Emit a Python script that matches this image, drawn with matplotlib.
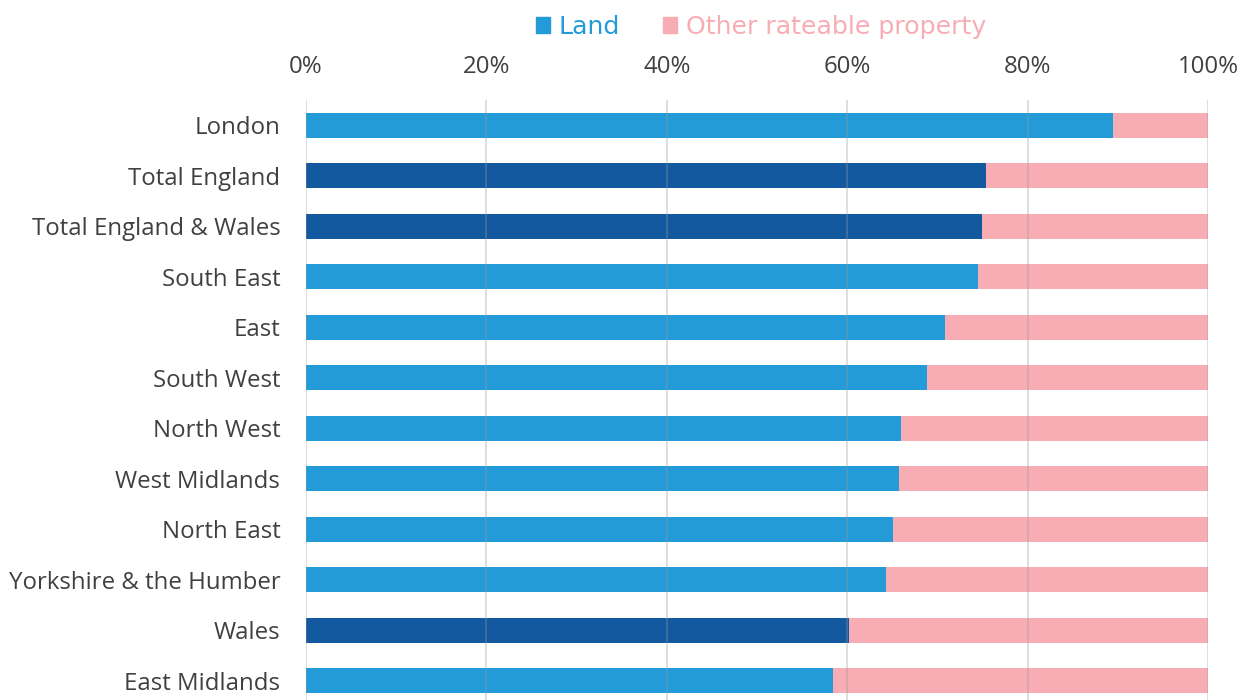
import matplotlib
matplotlib.use("Agg")
import matplotlib.pyplot as plt
from matplotlib.patches import Patch

regions = ["London", "Total England", "Total England & Wales", "South East", "East",
           "South West", "North West", "West Midlands", "North East",
           "Yorkshire & the Humber", "Wales", "East Midlands"]
land = [89.5, 75.4, 74.9, 74.5, 70.8, 68.8, 66.0, 65.7, 65.1, 64.3, 60.2, 58.4]
other = [100 - v for v in land]
totals = ["Total England", "Total England & Wales", "Wales"]
xticks = [0, 20, 40, 60, 80, 100]
xtick_labels = ["0%", "20%", "40%", "60%", "80%", "100%"]

LIGHT = "#229BD8"
DARK = "#13599F"
PINK = "#F7ADB3"
TEXT = "#404040"

plt.rcParams['font.family'] = ['Open Sans', 'DejaVu Sans']

fig = plt.figure(figsize=(12.53, 7.0), dpi=100)
ax = fig.add_axes([306/1253, -6/700, (1208-306)/1253, (700-100+6)/700])

y = list(range(len(regions)))
land_colors = [DARK if r in totals else LIGHT for r in regions]
ax.barh(y, land, height=0.5, color=land_colors, zorder=2)
ax.barh(y, other, left=land, height=0.5, color=PINK, zorder=2)

ax.set_xlim(0, 100)
ax.set_ylim(len(regions) - 0.5, -0.5)
ax.set_yticks(y)
ax.set_yticklabels(regions, fontsize=17.3, color=TEXT)
ax.set_xticks(xticks)
ax.set_xticklabels(xtick_labels, fontsize=17.3, color=TEXT)
ax.xaxis.tick_top()
ax.tick_params(axis='both', length=0)
ax.tick_params(axis='x', pad=15)
ax.tick_params(axis='y', pad=18.5)
for s in ax.spines.values():
    s.set_visible(False)
for xv in xticks:
    ax.axvline(xv, color="#999999", alpha=0.35, lw=1.3, zorder=3)

handles = [Patch(color=LIGHT, label="Land"), Patch(color=PINK, label="Other rateable property")]
leg = fig.legend(handles=handles, loc="center", bbox_to_anchor=(761/1253, 1 - 27/700),
                 ncol=2, frameon=False, handlelength=0.55, handleheight=0.55,
                 handletextpad=0.35, columnspacing=1.7, prop={'family': 'DejaVu Sans', 'size': 18.2})
for t, h in zip(leg.get_texts(), handles):
    t.set_color(h.get_facecolor())

fig.savefig("out.png", dpi=100)
